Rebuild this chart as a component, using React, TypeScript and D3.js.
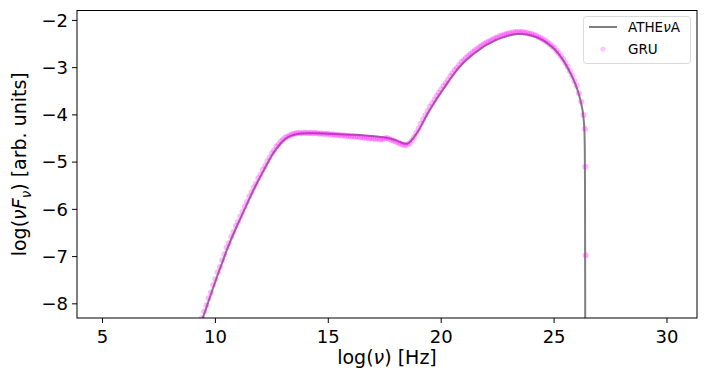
import React from 'react';
import * as d3 from 'd3';

// ATHEvA model curve (log nu, log nuFnu)
const athenaNu = [9.3, 9.5, 9.7, 9.9, 10.1, 10.3, 10.5, 10.7, 10.9, 11.1, 11.3, 11.5, 11.7, 11.9, 12.1, 12.3, 12.5, 12.7, 12.9, 13.1, 13.3, 13.5, 13.7, 14.0, 14.5, 15.0, 15.5, 16.0, 16.5, 17.0, 17.5, 17.8, 18.0, 18.2, 18.4, 18.5, 18.6, 18.7, 18.8, 18.9, 19.0, 19.2, 19.4, 19.6, 19.8, 20.0, 20.2, 20.4, 20.6, 20.8, 21.0, 21.2, 21.4, 21.6, 21.8, 22.0, 22.2, 22.4, 22.6, 22.8, 23.0, 23.2, 23.4, 23.6, 23.8, 24.0, 24.2, 24.4, 24.6, 24.8, 25.0, 25.2, 25.4, 25.6, 25.8, 26.0, 26.1, 26.2, 26.3, 26.34, 26.36, 26.37, 26.38];
const athenaLogF = [-8.49, -8.22, -7.94, -7.66, -7.39, -7.13, -6.87, -6.63, -6.41, -6.2, -5.99, -5.78, -5.58, -5.39, -5.21, -5.03, -4.86, -4.72, -4.6, -4.51, -4.45, -4.42, -4.4, -4.39, -4.39, -4.4, -4.41, -4.42, -4.43, -4.45, -4.48, -4.51, -4.54, -4.58, -4.61, -4.61, -4.58, -4.53, -4.47, -4.4, -4.33, -4.15, -3.97, -3.81, -3.66, -3.52, -3.38, -3.24, -3.11, -2.99, -2.89, -2.8, -2.72, -2.65, -2.58, -2.52, -2.47, -2.42, -2.38, -2.35, -2.32, -2.3, -2.29, -2.29, -2.3, -2.32, -2.35, -2.39, -2.45, -2.52, -2.6, -2.71, -2.84, -3.0, -3.19, -3.42, -3.57, -3.76, -4.05, -4.3, -4.7, -5.5, -8.6];

// GRU predictions
const gruNu = [
  9.4, 9.5, 9.6, 9.7, 9.8, 9.9, 10.0, 10.1, 10.2, 10.3,
  10.4, 10.5, 10.6, 10.7, 10.8, 10.9, 11.0, 11.1, 11.2, 11.3,
  11.4, 11.5, 11.6, 11.7, 11.8, 11.9, 12.0, 12.1, 12.2, 12.3,
  12.4, 12.5, 12.6, 12.7, 12.8, 12.9, 13.0, 13.1, 13.2, 13.3,
  13.4, 13.5, 13.6, 13.7, 13.8, 13.9, 14.0, 14.1, 14.2, 14.3,
  14.4, 14.5, 14.6, 14.7, 14.8, 14.9, 15.0, 15.1, 15.2, 15.3,
  15.4, 15.5, 15.6, 15.7, 15.8, 15.9, 16.0, 16.1, 16.2, 16.3,
  16.4, 16.5, 16.6, 16.7, 16.8, 16.9, 17.0, 17.1, 17.2, 17.3,
  17.4, 17.5, 17.6, 17.7, 17.8, 17.9, 18.0, 18.1, 18.2, 18.3,
  18.4, 18.5, 18.6, 18.7, 18.8, 18.9, 19.0, 19.1, 19.2, 19.3,
  19.4, 19.5, 19.6, 19.7, 19.8, 19.9, 20.0, 20.1, 20.2, 20.3,
  20.4, 20.5, 20.6, 20.7, 20.8, 20.9, 21.0, 21.1, 21.2, 21.3,
  21.4, 21.5, 21.6, 21.7, 21.8, 21.9, 22.0, 22.1, 22.2, 22.3,
  22.4, 22.5, 22.6, 22.7, 22.8, 22.9, 23.0, 23.1, 23.2, 23.3,
  23.4, 23.5, 23.6, 23.7, 23.8, 23.9, 24.0, 24.1, 24.2, 24.3,
  24.4, 24.5, 24.6, 24.7, 24.8, 24.9, 25.0, 25.1, 25.2, 25.3,
  25.4, 25.5, 25.6, 25.7, 25.8, 25.9, 26.0, 26.1, 26.2, 26.3,
  26.37, 26.38, 26.4,
];
const gruLogF = [
  -8.3, -8.16, -8.03, -7.88, -7.76, -7.6, -7.48, -7.33, -7.22, -7.08,
  -6.95, -6.81, -6.71, -6.58, -6.48, -6.35, -6.26, -6.15, -6.05, -5.94,
  -5.84, -5.73, -5.64, -5.53, -5.45, -5.34, -5.26, -5.16, -5.08, -4.98,
  -4.9, -4.81, -4.75, -4.67, -4.62, -4.56, -4.52, -4.48, -4.46, -4.43,
  -4.41, -4.4, -4.39, -4.38, -4.39, -4.38, -4.38, -4.39, -4.38, -4.39,
  -4.38, -4.39, -4.4, -4.39, -4.41, -4.4, -4.4, -4.42, -4.41, -4.42,
  -4.43, -4.42, -4.44, -4.43, -4.45, -4.44, -4.46, -4.45, -4.47, -4.46,
  -4.48, -4.47, -4.49, -4.48, -4.5, -4.49, -4.5, -4.51, -4.5, -4.52,
  -4.51, -4.5, -4.49, -4.51, -4.53, -4.55, -4.57, -4.59, -4.61, -4.63,
  -4.64, -4.63, -4.6, -4.54, -4.47, -4.38, -4.29, -4.19, -4.1, -4.01,
  -3.92, -3.83, -3.76, -3.68, -3.6, -3.53, -3.46, -3.39, -3.33, -3.26,
  -3.18, -3.12, -3.05, -3.0, -2.94, -2.88, -2.84, -2.79, -2.75, -2.71,
  -2.67, -2.63, -2.6, -2.56, -2.53, -2.5, -2.47, -2.45, -2.42, -2.4,
  -2.37, -2.36, -2.33, -2.32, -2.3, -2.29, -2.27, -2.27, -2.25, -2.25,
  -2.24, -2.25, -2.24, -2.26, -2.26, -2.28, -2.29, -2.31, -2.32, -2.35,
  -2.37, -2.4, -2.43, -2.46, -2.5, -2.54, -2.58, -2.64, -2.69, -2.76,
  -2.82, -2.9, -2.98, -3.07, -3.17, -3.28, -3.39, -3.54, -3.72, -4.0,
  -4.3, -5.1, -6.97,
];

const xTicks = [5, 10, 15, 20, 25, 30];
const yTicks = [-8, -7, -6, -5, -4, -3, -2];

const W = 706;
const H = 385;
const m = { left: 77, right: 697, top: 10.5, bottom: 318 };
const font = 'DejaVu Sans, sans-serif';

const App = () => {
  const x = d3.scaleLinear().domain([3.87, 31.33]).range([m.left, m.right]);
  const y = d3.scaleLinear().domain([-8.3, -1.79]).range([m.bottom, m.top]);
  const fmt = d3.format('d');

  const line = d3
    .line<number>()
    .x((d, i) => x(athenaNu[i]))
    .y((d) => y(d))
    .curve(d3.curveMonotoneX);

  return (
    <svg width={W} height={H} style={{ position: 'absolute', left: 0, top: 0, background: '#fff' }} fontFamily={font}>
      <defs>
        <clipPath id="plot-clip">
          <rect x={m.left} y={m.top} width={m.right - m.left} height={m.bottom - m.top} />
        </clipPath>
      </defs>
      <rect x={0} y={0} width={W} height={H} fill="#fff" />

      <g clipPath="url(#plot-clip)">
        <path d={line(athenaLogF) || ''} fill="none" stroke="#7f7f7f" strokeWidth={2} />
        {gruNu.map((nu, i) => (
          <circle key={i} cx={x(nu)} cy={y(gruLogF[i])} r={3} fill="#ff00ff" fillOpacity={0.28} />
        ))}
      </g>

      <rect
        x={m.left}
        y={m.top}
        width={m.right - m.left}
        height={m.bottom - m.top}
        fill="none"
        stroke="#000"
        strokeWidth={1}
      />

      {/* x axis */}
      {xTicks.map((t) => (
        <g key={t} transform={`translate(${x(t)},${m.bottom})`}>
          <line y2={5} stroke="#000" />
          <text y={25} textAnchor="middle" fontSize={18} fill="#000">
            {fmt(t)}
          </text>
        </g>
      ))}
      <text x={(m.left + m.right) / 2} y={364} textAnchor="middle" fontSize={19}>
        log(<tspan fontStyle="italic">ν</tspan>) [Hz]
      </text>

      {/* y axis */}
      {yTicks.map((t) => (
        <g key={t} transform={`translate(${m.left},${y(t)})`}>
          <line x2={-5} stroke="#000" />
          <text x={-9} dy="0.35em" textAnchor="end" fontSize={18} fill="#000">
            {fmt(t)}
          </text>
        </g>
      ))}
      <text
        transform={`translate(26,${(m.top + m.bottom) / 2}) rotate(-90)`}
        textAnchor="middle"
        fontSize={19}
      >
        log(<tspan fontStyle="italic">νF</tspan>
        <tspan fontSize={13.5} dy={5} fontStyle="italic">ν</tspan>
        <tspan dy={-5}>) [arb. units]</tspan>
      </text>

      {/* legend */}
      <g>
        <rect x={583.5} y={16.5} width={107} height={47} rx={3} fill="#fff" fillOpacity={0.8} stroke="#d9d9d9" />
        <line x1={589} x2={617} y1={27} y2={27} stroke="#7f7f7f" strokeWidth={2} />
        <text x={628} y={27} dy="0.35em" fontSize={13.5}>
          ATHE<tspan fontStyle="italic">ν</tspan>A
        </text>
        <circle cx={603} cy={49} r={2.6} fill="#ff00ff" fillOpacity={0.22} />
        <text x={628} y={49} dy="0.35em" fontSize={13.5}>
          GRU
        </text>
      </g>
    </svg>
  );
};

export default App;
